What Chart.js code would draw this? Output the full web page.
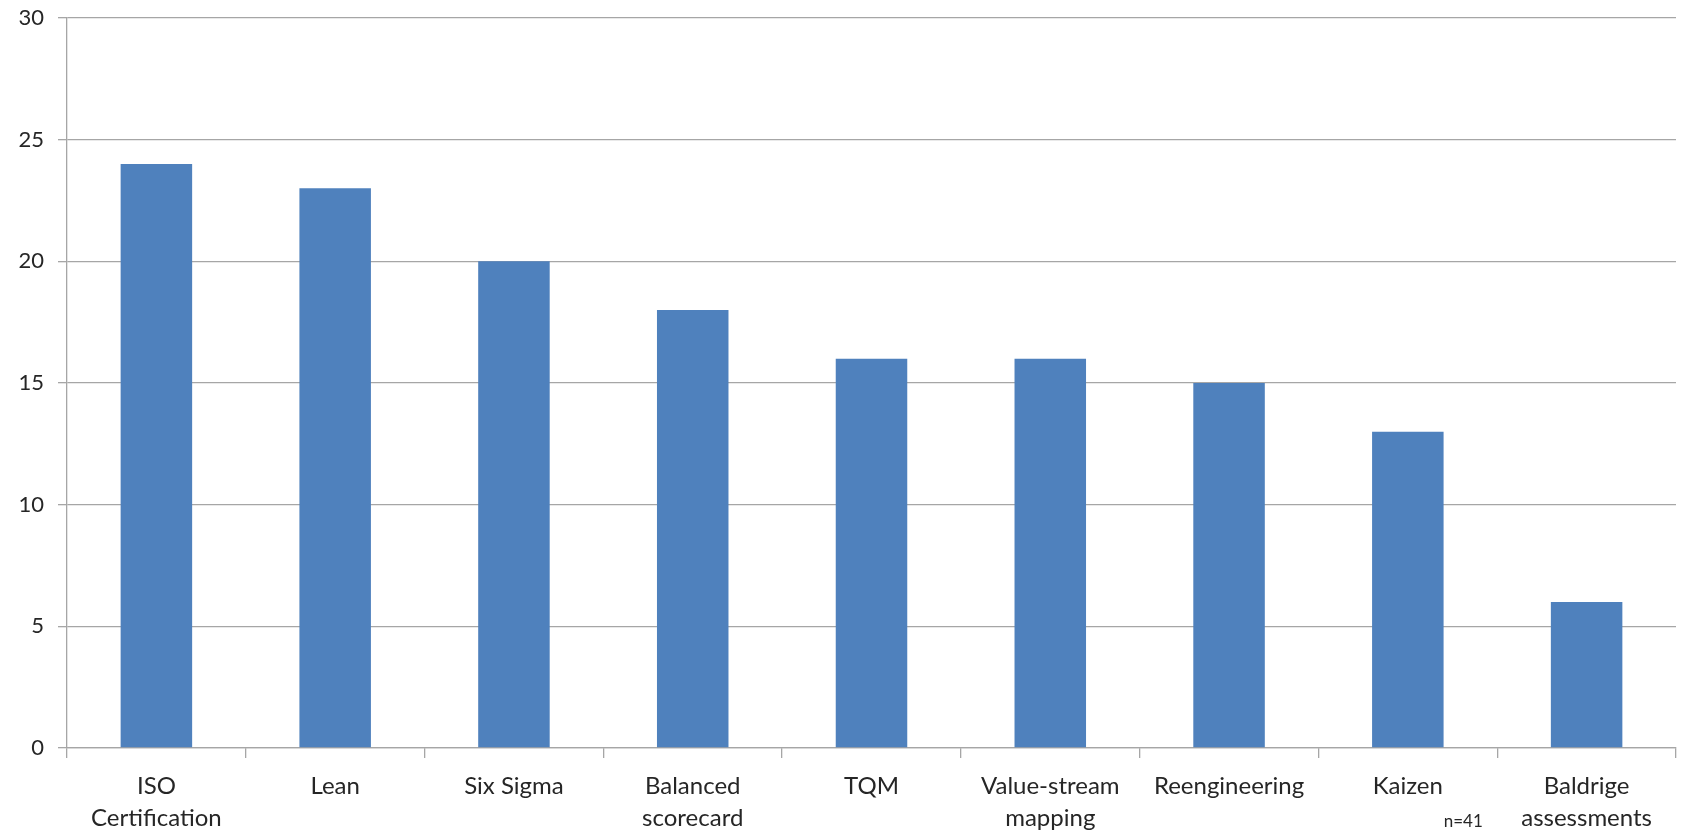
<!DOCTYPE html>
<html>
<head>
<meta charset="utf-8">
<script src="https://cdn.jsdelivr.net/npm/chart.js@4/dist/chart.umd.min.js"></script>
<style>
  html, body { margin: 0; padding: 0; background: #fff; }
  #wrap { width: 1681px; height: 833px; }
</style>
</head>
<body>
<div id="wrap"><canvas id="chart" width="1681" height="833"></canvas></div>
<script>
// Tools in use (count of respondents)
const categories = [
    ['ISO', 'Certification'],
    'Lean',
    'Six Sigma',
    ['Balanced', 'scorecard'],
    'TQM',
    ['Value-stream', 'mapping'],
    'Reengineering',
    'Kaizen',
    ['Baldrige', 'assessments']
];
const counts = [24, 23, 20, 18, 16, 16, 15, 13, 6];
const yTicks = [0, 5, 10, 15, 20, 25, 30];
const sampleNote = 'n=41';

const fontFamily = 'Lato, "Open Sans", sans-serif';

// small sample-size note under the Kaizen label
const notePlugin = {
    id: 'sampleNote',
    afterDraw(chart) {
        const ctx = chart.ctx;
        const x = chart.scales.x;
        const step = x.getPixelForValue(1) - x.getPixelForValue(0);
        ctx.save();
        ctx.font = '17px ' + fontFamily;
        ctx.fillStyle = '#262626';
        ctx.textAlign = 'center';
        ctx.textBaseline = 'middle';
        ctx.fillText(sampleNote, x.getPixelForValue(7) + step * 0.31, chart.chartArea.bottom + 74);
        ctx.restore();
    }
};

new Chart(document.getElementById('chart').getContext('2d'), {
    type: 'bar',
    data: {
        labels: categories,
        datasets: [{
            data: counts,
            backgroundColor: '#4F81BD',
            borderWidth: 0,
            barPercentage: 0.5,
            categoryPercentage: 0.8
        }]
    },
    plugins: [notePlugin],
    options: {
        responsive: false,
        animation: false,
        layout: { padding: { top: 0, right: 5, left: 0, bottom: 0 } },
        plugins: {
            legend: { display: false },
            tooltip: { enabled: false }
        },
        scales: {
            y: {
                min: 0,
                max: 30,
                afterBuildTicks(scale) {
                    scale.ticks = yTicks.map(v => ({ value: v }));
                },
                afterFit(scale) {
                    scale.width = 67;
                    scale.paddingTop = 18;
                },
                ticks: {
                    color: '#262626',
                    font: { family: fontFamily, size: 22 },
                    padding: 14
                },
                grid: {
                    color: '#A6A6A6',
                    lineWidth: 1.3,
                    tickLength: 9
                },
                border: { display: true, color: '#A6A6A6', width: 1.3 }
            },
            x: {
                afterFit(scale) { scale.height = 85; },
                ticks: {
                    color: '#262626',
                    font: { family: fontFamily, size: 24, lineHeight: 1.34 },
                    maxRotation: 0,
                    autoSkip: false,
                    padding: 12
                },
                grid: {
                    drawOnChartArea: false,
                    color: '#A6A6A6',
                    lineWidth: 1.3,
                    tickLength: 10
                },
                border: { display: true, color: '#A6A6A6', width: 1.3 }
            }
        }
    }
});
</script>
</body>
</html>
